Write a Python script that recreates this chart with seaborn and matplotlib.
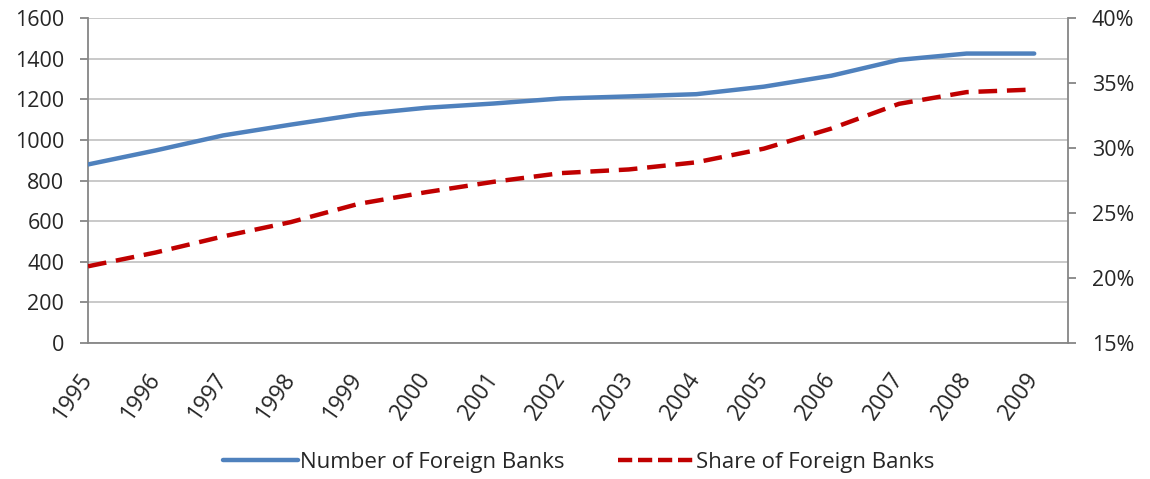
import numpy as np
import pandas as pd
import matplotlib.pyplot as plt
import matplotlib.ticker as mticker
import matplotlib.transforms as mtransforms
from matplotlib.lines import Line2D
import seaborn as sns

# ── DATA ───────────────────────────────────────────────────────────────────
years = [1995, 1996, 1997, 1998, 1999, 2000, 2001, 2002,
         2003, 2004, 2005, 2006, 2007, 2008, 2009]
n_banks = [879, 948, 1022, 1075, 1125, 1158, 1179, 1204,
           1214, 1225, 1262, 1316, 1394, 1425, 1425]
share_pct = [20.9, 21.96, 23.2, 24.3, 25.7, 26.6, 27.4, 28.07,
             28.35, 28.9, 29.95, 31.5, 33.4, 34.3, 34.5]

df = pd.DataFrame({'Year': years, 'Number': n_banks, 'Share': share_pct})

# ── STYLE ──────────────────────────────────────────────────────────────────
sns.set_style('white')
plt.rcParams['font.family'] = ['Open Sans', 'DejaVu Sans']
BLUE = '#4f81bd'
RED = '#c00000'
AXIS = '#868686'
GRID = '#c0c0c0'

fig = plt.figure(figsize=(11.5, 4.79), dpi=100)
ax = fig.add_axes([0.0765, 0.2839, 0.8522, 0.6785])
ax2 = ax.twinx()

sns.lineplot(data=df, x='Year', y='Number', ax=ax, color=BLUE,
             linewidth=3.2, solid_capstyle='round', zorder=3)
sns.lineplot(data=df, x='Year', y='Share', ax=ax2, color=RED,
             linewidth=3.2, dashes=False, zorder=3)
ax2.lines[0].set_dashes((4.2, 2.2))

ax.set_xlim(1995, 2009.5)
ax.set_ylim(0, 1600)
ax.set_yticks(np.arange(0, 1601, 200))
ax2.set_ylim(15, 40)
ax2.set_yticks(np.arange(15, 41, 5))
ax2.yaxis.set_major_formatter(mticker.FuncFormatter(lambda v, _: f'{v:.0f}%'))

ax.set_xticks(years)
ax.set_xticklabels([str(y) for y in years], rotation=55, ha='right',
                   va='center', rotation_mode='anchor', fontsize=16.5)
shift = mtransforms.ScaledTranslation(5 / 100, 0, fig.dpi_scale_trans)
for lbl in ax.get_xticklabels():
    lbl.set_transform(lbl.get_transform() + shift)
ax.set_xlabel('')
ax.set_ylabel('')
ax2.set_ylabel('')

ax.yaxis.grid(True, color=GRID, linewidth=1.2)
ax.set_axisbelow(True)

for a in (ax, ax2):
    for s in a.spines.values():
        s.set_visible(False)
ax.spines['left'].set_visible(True)
ax.spines['bottom'].set_visible(True)
ax2.spines['right'].set_visible(True)
for s in (ax.spines['left'], ax.spines['bottom'], ax2.spines['right']):
    s.set_color(AXIS)
    s.set_linewidth(1.3)

ax.tick_params(axis='y', which='major', direction='out', length=6,
               color=AXIS, width=1.3, labelsize=15.5, pad=11)
ax.tick_params(axis='x', which='major', direction='inout', length=12,
               color=AXIS, width=1.3, pad=17)
ax2.tick_params(axis='y', which='major', direction='out', length=6,
                color=AXIS, width=1.3, labelsize=15.5, pad=11)

handles = [Line2D([], [], color=BLUE, linewidth=3.2),
           Line2D([], [], color=RED, linewidth=3.2, dashes=(3.2, 1.3))]
fig.legend(handles, ['Number of Foreign Banks', 'Share of Foreign Banks'],
           loc='center', bbox_to_anchor=(0.503, 0.035), ncol=2, frameon=False,
           fontsize=16, handlelength=3.4, handletextpad=0.1, columnspacing=2.4)

plt.savefig('out.png', dpi=100)
plt.close()
